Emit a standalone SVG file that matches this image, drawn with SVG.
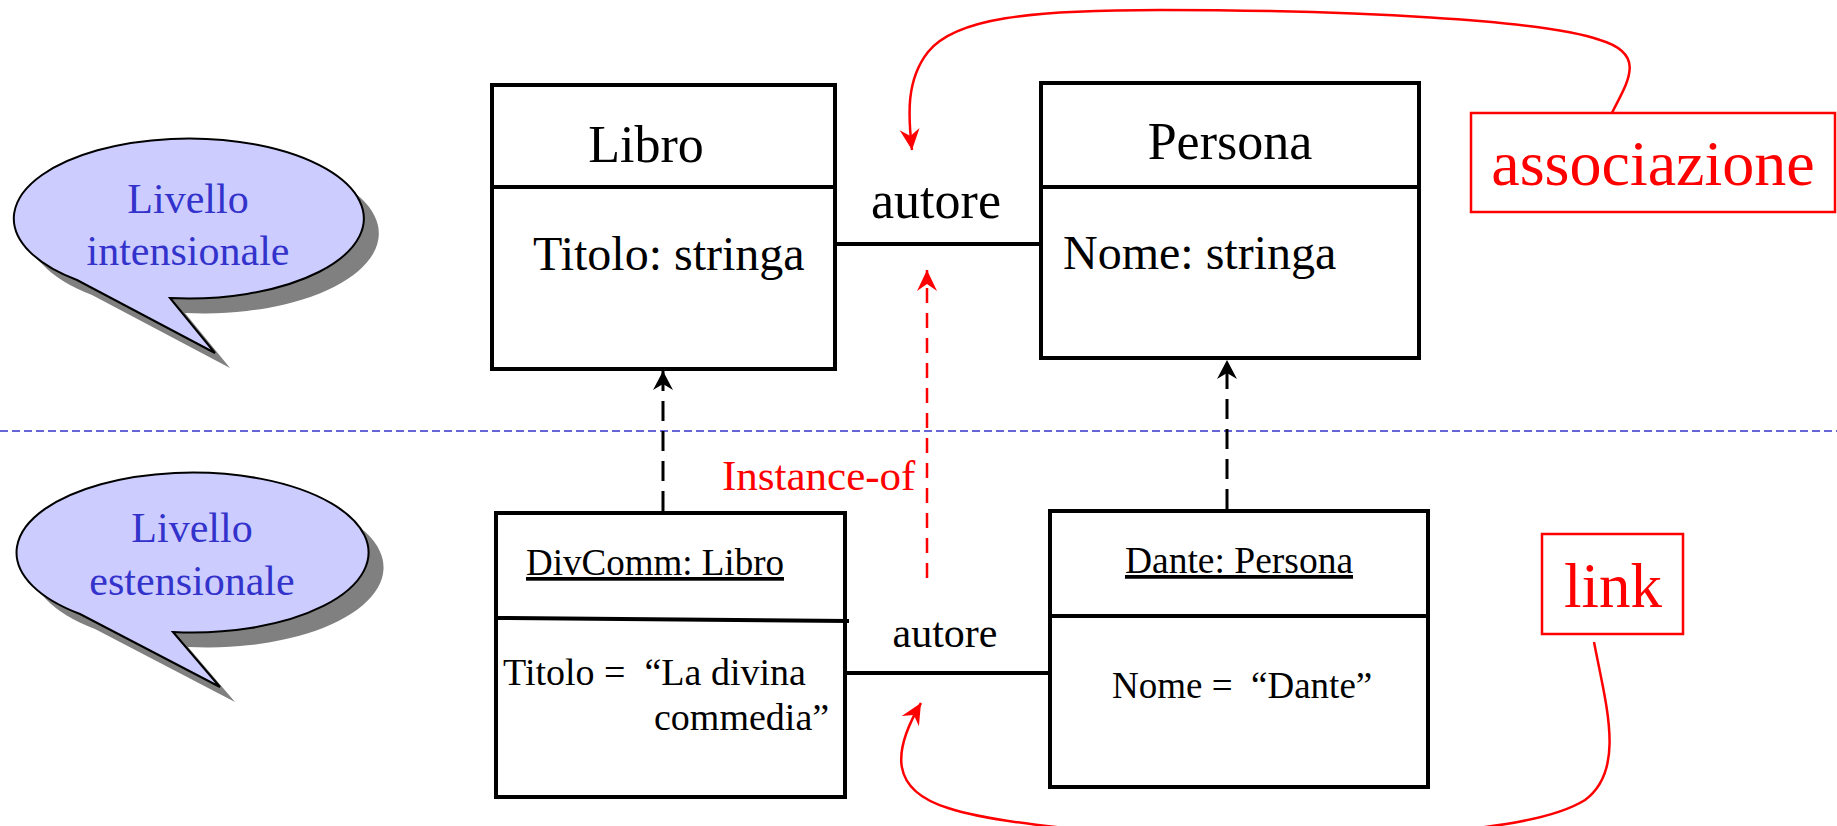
<svg xmlns="http://www.w3.org/2000/svg" width="1837" height="826" viewBox="0 0 1837 826">
<style>
  .t { font-family: "Liberation Serif", "Times New Roman", serif; fill: #000; }
  .box { fill: #fff; stroke: #000; stroke-width: 4; }
  .div { stroke: #000; stroke-width: 4; fill: none; }
  .bub { fill: #ccccff; stroke: #000; stroke-width: 2; }
  .shadow { fill: #808080; stroke: none; }
  .btxt { font-family: "Liberation Serif", "Times New Roman", serif; fill: #3333cc; font-size: 42px; text-anchor: middle; }
  .red { font-family: "Liberation Serif", "Times New Roman", serif; fill: #ff0000; }
  .rbox { fill: #fff; stroke: #ff0000; stroke-width: 2.5; }
  .assoc { stroke: #000; stroke-width: 4; fill: none; }
  .inst { stroke: #000; stroke-width: 3; stroke-dasharray: 20 10; fill: none; }
  .rinst { stroke: #ff0000; stroke-width: 2.5; stroke-dasharray: 15 10; fill: none; }
  .rcurve { stroke: #ff0000; stroke-width: 2.5; fill: none; }
</style>
<defs>
  <marker id="arrB" viewBox="-24 -12 26 24" markerWidth="26" markerHeight="24" refX="0" refY="0" markerUnits="userSpaceOnUse" orient="auto">
    <path d="M0,0 L-19,-10 L-13,0 L-19,10 Z" fill="#000"/>
  </marker>
  <marker id="arrR" viewBox="-24 -12 26 24" markerWidth="26" markerHeight="24" refX="0" refY="0" markerUnits="userSpaceOnUse" orient="auto">
    <path d="M0,0 L-21,-10 L-14,0 L-21,10 Z" fill="#ff0000"/>
  </marker>
</defs>

<!-- separator -->
<line x1="0" y1="431" x2="1837" y2="431" stroke="#3333cc" stroke-width="1.6" stroke-dasharray="8 4"/>

<g id="bubble-intensionale">
  <path class="shadow" transform="translate(15,15)" d="M77,280 A175,80 0 1 1 170,298 L215,353 Z"/>
  <path class="bub" d="M77,280 A175,80 0 1 1 170,298 L215,353 Z"/>
  <text class="btxt" x="188" y="213">Livello</text>
  <text class="btxt" x="188" y="265">intensionale</text>
</g>

<g id="bubble-estensionale">
  <path class="shadow" transform="translate(15,15)" d="M80,614 A176,80 0 1 1 173,632 L220,687 Z"/>
  <path class="bub" d="M80,614 A176,80 0 1 1 173,632 L220,687 Z"/>
  <text class="btxt" x="192" y="542">Livello</text>
  <text class="btxt" x="192" y="595">estensionale</text>
</g>

<g id="connectors">
  <line class="assoc" x1="835" y1="244" x2="1041" y2="244"/>
  <line class="assoc" x1="846" y1="673" x2="1050" y2="673"/>
  <line class="inst" x1="663" y1="511" x2="663" y2="371" marker-end="url(#arrB)"/>
  <line class="inst" x1="1227" y1="509" x2="1227" y2="360" marker-end="url(#arrB)"/>
  <line class="rinst" x1="927" y1="578" x2="927" y2="270" marker-end="url(#arrR)"/>
  <path class="rcurve" d="M1610,117 C1625,85 1650,55 1600,40 C1545,20 1350,10 1160,10 C1030,10 955,18 928,52 C906,80 908,115 912,150" marker-end="url(#arrR)"/>
  <path class="rcurve" d="M1594,642 C1606,705 1626,770 1585,800 C1545,825 1450,835 1300,838 C1150,840 1000,825 948,808 C890,790 892,752 921,703" marker-end="url(#arrR)"/>
</g>

<g id="libro">
  <rect class="box" x="492" y="85" width="343" height="284"/>
  <line class="div" x1="492" y1="187" x2="835" y2="187"/>
  <text class="t" x="646" y="162" font-size="52" text-anchor="middle">Libro</text>
  <text class="t" x="533" y="270" font-size="48">Titolo: stringa</text>
</g>

<g id="persona">
  <rect class="box" x="1041" y="83" width="378" height="275"/>
  <line class="div" x1="1041" y1="187" x2="1419" y2="187"/>
  <text class="t" x="1230" y="159" font-size="52" text-anchor="middle">Persona</text>
  <text class="t" x="1063" y="269" font-size="48">Nome: stringa</text>
</g>

<g id="label-autore-top">
  <text class="t" x="936" y="218" font-size="52" text-anchor="middle">autore</text>
</g>

<g id="divcomm">
  <rect class="box" x="496" y="513" width="349" height="284"/>
  <line class="div" x1="496" y1="618" x2="849" y2="621"/>
  <text class="t" x="526" y="575" font-size="37" text-decoration="underline">DivComm: Libro</text>
  <text class="t" x="503" y="685" font-size="38" xml:space="preserve">Titolo =  “La divina</text>
  <text class="t" x="654" y="730" font-size="38">commedia”</text>
</g>

<g id="dante">
  <rect class="box" x="1050" y="511" width="378" height="276"/>
  <line class="div" x1="1050" y1="616" x2="1428" y2="616"/>
  <text class="t" x="1239" y="573" font-size="37.5" text-anchor="middle" text-decoration="underline">Dante: Persona</text>
  <text class="t" x="1112" y="698" font-size="37" xml:space="preserve">Nome =  “Dante”</text>
</g>

<g id="label-autore-bottom">
  <text class="t" x="945" y="647" font-size="42" text-anchor="middle">autore</text>
</g>

<g id="label-instance-of">
  <text class="red" x="722" y="490" font-size="43">Instance-of</text>
</g>

<g id="associazione">
  <rect class="rbox" x="1471" y="113" width="364" height="99"/>
  <text class="red" x="1653" y="185" font-size="64" text-anchor="middle">associazione</text>
</g>

<g id="link">
  <rect class="rbox" x="1542" y="534" width="141" height="100"/>
  <text class="red" x="1613" y="607" font-size="63" text-anchor="middle">link</text>
</g>
</svg>
